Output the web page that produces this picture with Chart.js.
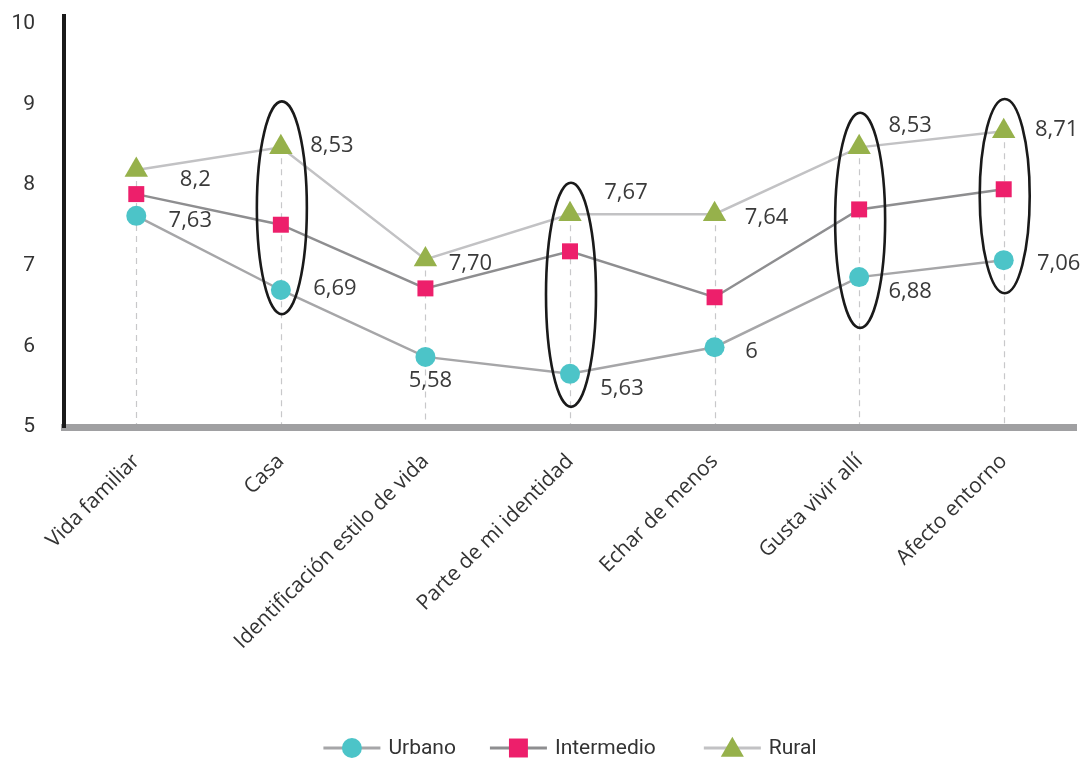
<!DOCTYPE html>
<html><head><meta charset="utf-8">
<script src="https://cdn.jsdelivr.net/npm/chart.js@4.4.0/dist/chart.umd.min.js"></script>
<style>html,body{margin:0;padding:0;background:#fff;}#wrap{width:1084px;height:759px;}</style>
</head><body><div id="wrap"><canvas id="c" width="1084" height="759"></canvas></div>
<script>
const categories = ['Vida familiar','Casa','Identificación estilo de vida','Parte de mi identidad','Echar de menos','Gusta vivir allí','Afecto entorno'];
const urbano = [7.62, 6.70, 5.87, 5.66, 5.99, 6.86, 7.07];
const intermedio = [7.89, 7.51, 6.72, 7.18, 6.61, 7.70, 7.95];
const rural = [8.19, 8.47, 7.08, 7.64, 7.64, 8.47, 8.67];
const urbanoLabels = ['7,63','6,69','5,58','5,63','6','6,88','7,06'];
const ruralLabels = ['8,2','8,53','7,70','7,67','7,64','8,53','8,71'];
const yTicks = [5, 6, 7, 8, 9, 10];
const highlighted = [1, 3, 5, 6];
const ellipseTop = [9.04, 8.03, 8.90, 9.07];
const ellipseBottom = [6.40, 5.25, 6.23, 6.66];

// label offsets in px relative to the point (style, not data)
const urbanoOffsets = [[54,5],[54,-1],[5,24],[52,15],[37,5],[51,15],[55,4]];
const ruralOffsets = [[59,10],[51,-2],[45,4],[56,-22],[52,3],[51,-22],[53,-2]];

const dashPlugin = {
  id: 'dashes',
  beforeDatasetsDraw(chart) {
    const ctx = chart.ctx, area = chart.chartArea;
    ctx.save();
    ctx.strokeStyle = '#c8c8ca'; ctx.lineWidth = 1.2; ctx.setLineDash([6, 5]);
    categories.forEach((c, i) => {
      let top = Infinity;
      chart.data.datasets.forEach((d, di) => { const p = chart.getDatasetMeta(di).data[i]; if (p.y < top) top = p.y; });
      const x = Math.round(chart.scales.x.getPixelForValue(i)) + 0.5;
      ctx.beginPath(); ctx.moveTo(x, top); ctx.lineTo(x, area.bottom - 3); ctx.stroke();
    });
    ctx.restore();
  }
};

const overlayPlugin = {
  id: 'overlay',
  afterDatasetsDraw(chart) {
    const ctx = chart.ctx, xs = chart.scales.x, ys = chart.scales.y;
    ctx.save();
    ctx.strokeStyle = '#1a1a1a'; ctx.lineWidth = 2.6;
    highlighted.forEach((idx, k) => {
      const cx = xs.getPixelForValue(idx) + 1;
      const t = ys.getPixelForValue(ellipseTop[k]), b = ys.getPixelForValue(ellipseBottom[k]);
      ctx.beginPath(); ctx.ellipse(cx, (t + b) / 2, 25, (b - t) / 2, 0, 0, Math.PI * 2); ctx.stroke();
    });
    ctx.font = '22px "Open Sans", sans-serif';
    ctx.fillStyle = '#3a3a3a'; ctx.textAlign = 'center'; ctx.textBaseline = 'middle';
    const um = chart.getDatasetMeta(0).data, rm = chart.getDatasetMeta(2).data;
    urbanoLabels.forEach((s, i) => ctx.fillText(s, um[i].x + urbanoOffsets[i][0], um[i].y + urbanoOffsets[i][1]));
    ruralLabels.forEach((s, i) => ctx.fillText(s, rm[i].x + ruralOffsets[i][0], rm[i].y + ruralOffsets[i][1]));
    ctx.restore();
  }
};

const legendPlugin = {
  id: 'lineLegend',
  afterDraw(chart) {
    const ctx = chart.ctx;
    const lineLen = 57, gapText = 8, gapItems = [34, 48], y = 748;
    ctx.save();
    ctx.font = '21px Roboto, sans-serif';
    const ds = chart.data.datasets;
    const widths = ds.map(d => lineLen + gapText + ctx.measureText(d.label).width);
    const total = widths.reduce((a, b) => a + b, 0) + gapItems.reduce((a, b) => a + b, 0);
    let x = 570 - total / 2;
    ds.forEach((d, i) => {
      ctx.strokeStyle = d.borderColor; ctx.lineWidth = 3; ctx.setLineDash([]);
      ctx.beginPath(); ctx.moveTo(x, y); ctx.lineTo(x + lineLen, y); ctx.stroke();
      ctx.fillStyle = d.pointBackgroundColor;
      Chart.helpers.drawPoint(ctx, {pointStyle: d.pointStyle, radius: d.legendRadius, rotation: 0, borderWidth: 0}, x + lineLen / 2, y + (d.pointStyle === 'triangle' ? 2 : 0));
      ctx.fillStyle = '#333'; ctx.textAlign = 'left'; ctx.textBaseline = 'middle';
      ctx.fillText(d.label, x + lineLen + gapText, y + 1);
      x += widths[i] + (gapItems[i] || 0);
    });
    ctx.restore();
  }
};

new Chart(document.getElementById('c'), {
  type: 'line',
  data: {
    labels: categories,
    datasets: [
      {label: 'Urbano', data: urbano, borderColor: '#a6a6a8', borderWidth: 2.5, pointStyle: 'circle', pointRadius: 10, pointBackgroundColor: '#4cc4c8', pointBorderWidth: 0, legendRadius: 10, tension: 0, clip: false},
      {label: 'Intermedio', data: intermedio, borderColor: '#8e8e90', borderWidth: 2.5, pointStyle: 'rect', pointRadius: 11.3, pointBackgroundColor: '#ed1f6b', pointBorderWidth: 0, legendRadius: 13.4, tension: 0, clip: false},
      {label: 'Rural', data: rural, borderColor: '#c2c2c4', borderWidth: 2.5, pointStyle: 'triangle', pointRadius: 13.5, pointBackgroundColor: '#96b14b', pointBorderWidth: 0, legendRadius: 13.3, tension: 0, clip: false}
    ]
  },
  options: {
    responsive: false, animation: false,
    layout: {autoPadding: false, padding: {top: 16, right: 8, bottom: 40, left: 0}},
    plugins: {legend: {display: false}, tooltip: {enabled: false}},
    scales: {
      x: {
        offset: true,
        grid: {display: false, drawTicks: false},
        border: {color: '#a0a0a2', width: 7},
        ticks: {minRotation: 45, maxRotation: 45, autoSkip: false, font: {family: '"Open Sans"', size: 21}, color: '#333', padding: 22},
        afterFit(s) { s.height = 292; s.paddingLeft = 0; s.paddingRight = 0; s.paddingTop = 0; s.paddingBottom = 0; }
      },
      y: {
        min: 5, max: 10.1,
        afterBuildTicks(s) { s.ticks = yTicks.map(v => ({value: v})); },
        grid: {display: false, drawTicks: false},
        border: {color: '#1a1a1a', width: 4},
        ticks: {font: {family: 'Roboto', size: 21}, color: '#333', padding: 29},
        afterFit(s) { s.width = 64; s.paddingTop = 0; s.paddingBottom = 0; }
      }
    }
  },
  plugins: [dashPlugin, overlayPlugin, legendPlugin]
});
</script></body></html>
